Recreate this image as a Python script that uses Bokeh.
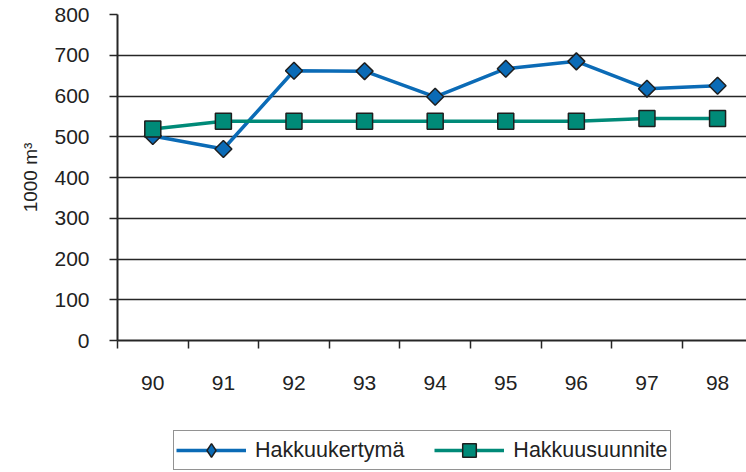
import numpy as np
from bokeh.plotting import figure
from bokeh.layouts import column
from bokeh.models import Range1d, FixedTicker, Legend, LegendItem, ColumnDataSource
from bokeh.embed import file_html
from bokeh.resources import INLINE

years = [90, 91, 92, 93, 94, 95, 96, 97, 98]
year_labels = ["90", "91", "92", "93", "94", "95", "96", "97", "98"]
hakkuukertyma = [502, 470, 662, 661, 598, 667, 685, 618, 625]
hakkuusuunnite = [519, 538, 538, 538, 538, 538, 538, 545, 545]
y_ticks = [0, 100, 200, 300, 400, 500, 600, 700, 800]

BLUE = "#0b6bb6"
TEAL = "#008a78"
DARK = "#262626"
TXT = "#222222"
FONT = "Liberation Sans"

p = figure(width=746, height=430, output_backend="svg", toolbar_location=None,
           x_range=Range1d(89.5, 98.41), y_range=Range1d(0, 800))
p.min_border_left = 117
p.min_border_right = 0
p.min_border_top = 14
p.min_border_bottom = 90
p.outline_line_color = None

# grid
p.xgrid.visible = False
p.ygrid.ticker = FixedTicker(ticks=y_ticks)
p.ygrid.grid_line_color = DARK
p.ygrid.grid_line_width = 1.5

# x axis
xa = p.xaxis[0]
xa.ticker = FixedTicker(ticks=years, minor_ticks=[y - 0.5 for y in years] + [years[-1] + 0.5])
xa.major_label_overrides = {y: l for y, l in zip(years, year_labels)}
xa.major_tick_out = 0
xa.major_tick_in = 0
xa.minor_tick_out = 8
xa.minor_tick_in = 0
xa.minor_tick_line_color = DARK
xa.minor_tick_line_width = 1.5
xa.axis_line_color = DARK
xa.axis_line_width = 2
xa.major_label_standoff = 27
xa.major_label_text_font = FONT
xa.major_label_text_font_size = "21px"
xa.major_label_text_color = TXT

# y axis
ya = p.yaxis[0]
ya.ticker = FixedTicker(ticks=y_ticks)
ya.minor_tick_line_color = None
ya.major_tick_out = 8
ya.major_tick_in = 0
ya.major_tick_line_color = DARK
ya.major_tick_line_width = 1.5
ya.axis_line_color = DARK
ya.axis_line_width = 2
ya.major_label_standoff = 20
ya.major_label_text_font = FONT
ya.major_label_text_font_size = "21px"
ya.major_label_text_color = TXT
ya.axis_label = "1000 m³"
ya.axis_label_text_font = FONT
ya.axis_label_text_font_size = "19px"
ya.axis_label_text_font_style = "normal"
ya.axis_label_text_color = TXT
ya.axis_label_standoff = 10

src = ColumnDataSource(dict(x=years, a=hakkuukertyma, b=hakkuusuunnite))

p.line("x", "a", source=src, line_color=BLUE, line_width=3.5)
p.scatter("x", "a", source=src, marker="square", angle=np.pi / 4, size=12,
          fill_color=BLUE, line_color="#1e1e1e", line_width=1.5)
p.line("x", "b", source=src, line_color=TEAL, line_width=3.5)
p.scatter("x", "b", source=src, marker="square", size=16,
          fill_color=TEAL, line_color="#1e1e1e", line_width=1.5)

# legend strip below the chart (frames are aligned by the column layout)
q = figure(width=746, height=42, output_backend="svg", toolbar_location=None,
           x_range=Range1d(0, 1), y_range=Range1d(0, 1))
q.min_border_left = 117
q.min_border_right = 0
q.min_border_top = 0
q.min_border_bottom = 0
q.outline_line_color = None
q.axis.visible = False
q.grid.visible = False

# off-range dummy sources so that the legend glyphs are drawn
dummy = ColumnDataSource(dict(x=[5], y=[5]))
l1 = q.line("x", "y", source=dummy, line_color=BLUE, line_width=3.5)
m1 = q.scatter("x", "y", source=dummy, marker="diamond", size=16,
               fill_color=BLUE, line_color="#1e1e1e", line_width=1.5)
l2 = q.line("x", "y", source=dummy, line_color=TEAL, line_width=3.5)
m2 = q.scatter("x", "y", source=dummy, marker="square", size=16,
               fill_color=TEAL, line_color="#1e1e1e", line_width=1.5)

legend = Legend(items=[LegendItem(label="Hakkuukertymä", renderers=[l1, m1]),
                       LegendItem(label="Hakkuusuunnite", renderers=[l2, m2])],
                orientation="horizontal", location=(56, 2))
legend.border_line_color = DARK
legend.border_line_width = 1.5
legend.background_fill_color = "white"
legend.background_fill_alpha = 1
legend.label_text_font = FONT
legend.label_text_font_size = "21.5px"
legend.label_text_color = TXT
legend.glyph_width = 70
legend.glyph_height = 34
legend.label_standoff = 9
legend.spacing = 30
legend.padding = 2
legend.margin = 0
q.add_layout(legend, "center")

layout = column(p, q, spacing=0)
open("out.html", "w").write(file_html(layout, INLINE))
